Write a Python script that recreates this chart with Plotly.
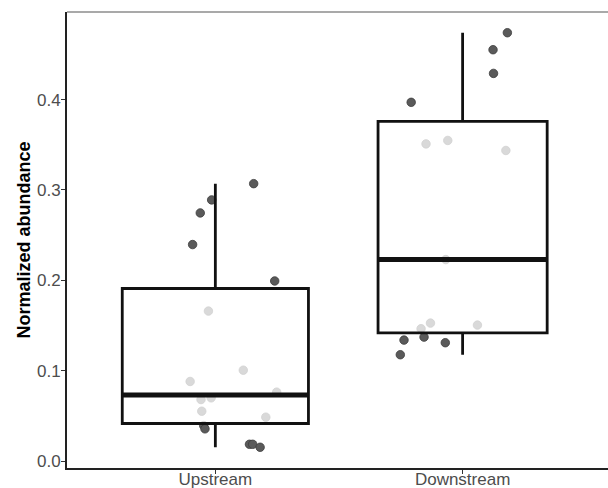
import numpy as np
import plotly.graph_objects as go

categories = ["Upstream", "Downstream"]
positions = [1, 2]
box_widths = [0.753, 0.684]

# Jittered points: (x offset from group centre, value)
up_offsets = [0.155, -0.015, -0.061, -0.092, 0.240, -0.028, 0.113, -0.102, 0.248,
              -0.058, -0.017, -0.055, 0.204, -0.047, -0.042, 0.138, 0.151, 0.181]
up_values = [0.307, 0.289, 0.2746, 0.2396, 0.1993, 0.166, 0.1006, 0.0881, 0.0763,
             0.0681, 0.070, 0.0552, 0.0486, 0.0393, 0.0357, 0.0186, 0.0186, 0.0153]

down_offsets = [0.181, 0.123, 0.125, -0.208, -0.148, -0.060, 0.175, -0.068, -0.130,
                -0.168, 0.060, -0.237, -0.156, -0.070, -0.252]
down_values = [0.474, 0.4552, 0.429, 0.397, 0.351, 0.3548, 0.3437, 0.223, 0.1527,
               0.1465, 0.1505, 0.1339, 0.1372, 0.131, 0.1177]

y_ticks = [0.0, 0.1, 0.2, 0.3, 0.4]
y_title = "Normalized abundance"

groups = [(up_offsets, up_values), (down_offsets, down_values)]

all_vals = np.array(up_values + down_values)
span = all_vals.max() - all_vals.min()
y_range = [all_vals.min() - 0.05 * span, all_vals.max() + 0.05 * span]
x_range = [0.4, 2.588]

FONT = "Liberation Sans, Arial, sans-serif"
fig = go.Figure()

# points (lower layer)
for pos, (offs, vals) in zip(positions, groups):
    fig.add_trace(go.Scatter(
        x=[pos + o for o in offs], y=vals, mode="markers",
        marker=dict(size=8.5, color="#5a5a5a", line=dict(width=0.8, color="#3c3c3c")),
        hoverinfo="skip", showlegend=False, xaxis="x", yaxis="y"))

# boxes (upper overlaid layer)
for pos, w, (offs, vals) in zip(positions, box_widths, groups):
    v = np.array(vals)
    q1, med, q3 = np.percentile(v, [25, 50, 75])
    iqr = q3 - q1
    lo = v[v >= q1 - 1.5 * iqr].min()
    hi = v[v <= q3 + 1.5 * iqr].max()
    fig.add_trace(go.Box(
        x=[pos], q1=[q1], median=[med], q3=[q3], lowerfence=[lo], upperfence=[hi],
        width=w, fillcolor="rgba(255,255,255,0.77)",
        line=dict(color="#111111", width=2.8), whiskerwidth=0,
        boxpoints=False, hoverinfo="skip", showlegend=False,
        xaxis="x2", yaxis="y2"))
    fig.add_trace(go.Scatter(
        x=[pos - w / 2, pos + w / 2], y=[med, med], mode="lines",
        line=dict(color="#111111", width=5), hoverinfo="skip", showlegend=False,
        xaxis="x2", yaxis="y2"))

axis_common = dict(showgrid=False, zeroline=False, showline=True, linecolor="#222222",
                   linewidth=2, ticks="outside", ticklen=4, tickwidth=1.2,
                   tickcolor="#333333",
                   tickfont=dict(family=FONT, size=17, color="#4d4d4d"))

fig.update_layout(
    width=608, height=488,
    margin=dict(l=67, r=0, t=12, b=20),
    paper_bgcolor="white", plot_bgcolor="white",
    font=dict(family=FONT),
    showlegend=False,
    xaxis=dict(range=x_range, tickmode="array", tickvals=positions, ticktext=categories,
               automargin=False, ticklabelstandoff=-9, **axis_common),
    yaxis=dict(range=y_range, tickmode="array", tickvals=y_ticks, tickformat=".1f",
               automargin=False, ticklabelstandoff=-3,
               title=dict(text="<b>" + y_title + "</b>", standoff=2,
                          font=dict(family=FONT, size=18, color="#000000")),
               **axis_common),
    xaxis2=dict(range=x_range, overlaying="x", anchor="y2", visible=False),
    yaxis2=dict(range=y_range, overlaying="y", anchor="x2", visible=False),
    shapes=[dict(type="line", xref="paper", yref="paper", x0=0, x1=1, y0=1, y1=1,
                 line=dict(color="#8c8c8c", width=1.5))],
)

fig.write_html("out.html", config={"displayModeBar": False},
               post_script="document.body.style.margin='0';document.body.style.padding='0';")
